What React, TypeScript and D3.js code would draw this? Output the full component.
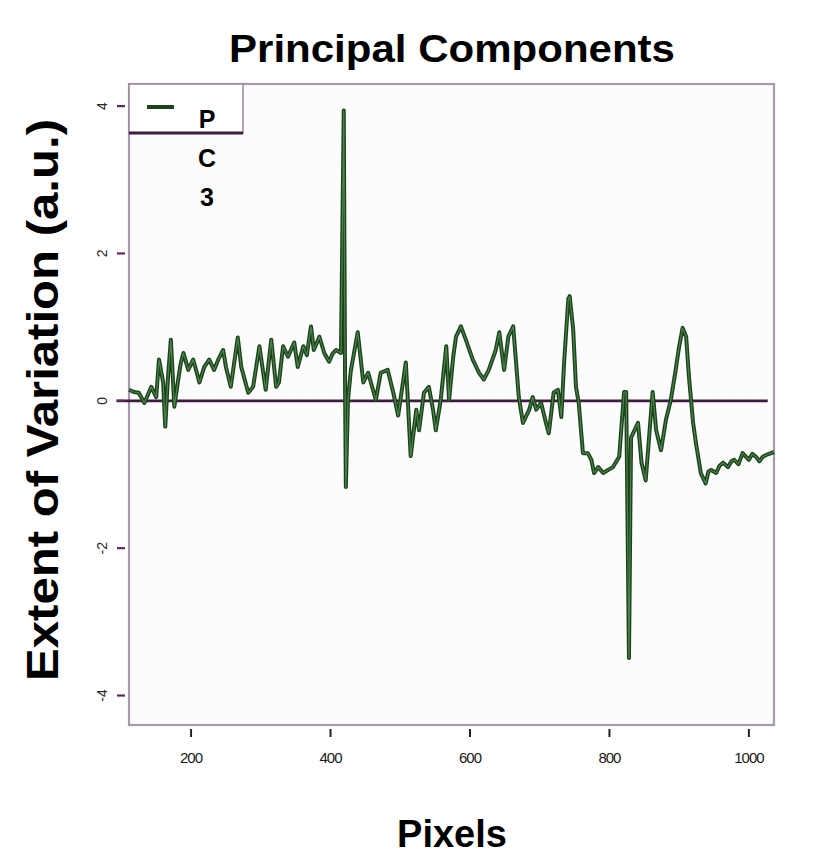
import React from "react";
import * as d3 from "d3";

// PC3 loading: pixel index and extent of variation
const pixels = [
  111, 118, 125, 133, 138, 143, 150, 154, 160, 163, 167, 171, 176, 181, 185,
  189, 196, 203, 212, 219, 226, 233, 240, 246, 250, 257, 267, 272, 282, 289,
  298, 307, 315, 322, 326, 332, 339, 348, 353, 361, 366, 372, 376, 384, 391,
  398, 403, 408, 415, 419, 421, 422, 425, 429, 439, 447, 454, 465, 472, 482,
  490, 497, 508, 515, 523, 527, 534, 541, 547, 551, 558, 566, 570, 576, 580,
  587, 594, 604, 613, 620, 627, 637, 642, 649, 655, 662, 670, 676, 685, 690,
  695, 702, 709, 713, 720, 726, 731, 735, 741, 743, 748, 752, 756, 762, 769,
  774, 778, 784, 791, 798, 805, 814, 821, 824, 828, 831, 841, 846, 852, 862,
  867, 874, 881, 888, 895, 900, 905, 910, 914, 920, 924, 931, 938, 942, 946,
  953, 958, 963, 970, 975, 979, 985, 991, 1000, 1005, 1010, 1015, 1020, 1026,
  1032, 1036,
];
const pc3 = [
  0.15, 0.12, 0.11, -0.03, 0.08, 0.19, 0.05, 0.56, 0.25, -0.35, 0.33, 0.83,
  -0.08, 0.25, 0.5, 0.65, 0.42, 0.56, 0.25, 0.46, 0.56, 0.42, 0.58, 0.69, 0.46,
  0.19, 0.86, 0.46, 0.11, 0.19, 0.74, 0.15, 0.83, 0.19, 0.25, 0.74, 0.6, 0.79,
  0.46, 0.74, 0.62, 1.01, 0.69, 0.87, 0.65, 0.53, 0.64, 0.69, 0.65, 3.94, 0.01,
  -1.17, 0.01, 0.4, 0.93, 0.25, 0.38, 0.01, 0.38, 0.42, 0.11, -0.2, 0.52,
  -0.75, -0.12, -0.4, 0.11, 0.19, -0.12, -0.4, 0.01, 0.74, 0.01, 0.6, 0.87,
  1.01, 0.83, 0.56, 0.38, 0.29, 0.42, 0.69, 0.93, 0.42, 0.87, 1.01, 0.05,
  -0.3, -0.12, 0.05, -0.12, -0.03, -0.3, -0.44, 0.11, 0.15, -0.22, 0.52, 1.38,
  1.42, 0.97, 0.19, -0.03, -0.71, -0.71, -0.8, -0.98, -0.9, -0.98, -0.94, -0.9,
  -0.76, 0.12, 0.12, -3.49, -0.5, -0.3, -0.84, -1.08, 0.12, -0.4, -0.67, -0.26,
  0.01, 0.42, 0.74, 0.99, 0.87, 0.33, -0.3, -0.57, -0.98, -1.12, -0.96, -0.94,
  -0.98, -0.88, -0.84, -0.9, -0.82, -0.8, -0.86, -0.71, -0.8, -0.72, -0.76,
  -0.82, -0.76, -0.73, -0.71, -0.69,
];
const xTicks = [200, 400, 600, 800, 1000];
const yTicks = [-4, -2, 0, 2, 4];
const zeroLineSpan = [93, 1027];
const legendLabel = ["P", "C", "3"];

const W = 836;
const H = 855;
const box = { left: 129, right: 774, top: 84, bottom: 725 };

const App: React.FC = () => {
  const x = d3.scaleLinear().domain([111, 1036]).range([box.left, box.right]);
  const y = d3.scaleLinear().domain([-4.4, 4.3]).range([box.bottom, box.top]);

  const points = pixels.map((p, i) => [p, pc3[i]] as [number, number]);
  const line = d3
    .line<[number, number]>()
    .x((d) => x(d[0]))
    .y((d) => y(d[1]));
  const path = line(points) || "";

  const font = "Liberation Sans, Arial, sans-serif";

  return (
    <svg
      width={W}
      height={H}
      style={{ position: "absolute", left: 0, top: 0, background: "#fff" }}
    >
      <rect width={W} height={H} fill="#fff" />
      <text
        x={452}
        y={62}
        textAnchor="middle"
        fontFamily={font}
        fontWeight="bold"
        fontSize={39}
        textLength={446}
        lengthAdjust="spacingAndGlyphs"
        fill="#000"
      >
        Principal Components
      </text>

      {/* plot frame */}
      <rect
        x={box.left}
        y={box.top}
        width={box.right - box.left}
        height={box.bottom - box.top}
        fill="#fdfcfd"
        stroke="#a898ad"
        strokeWidth={2.2}
      />

      {/* zero reference */}
      <line
        x1={x(zeroLineSpan[0])}
        x2={x(zeroLineSpan[1])}
        y1={y(0)}
        y2={y(0)}
        stroke="#3f1b40"
        strokeWidth={2.8}
      />

      {/* PC3 curve */}
      <path
        d={path}
        fill="none"
        stroke="#1b421b"
        strokeWidth={4}
        strokeLinejoin="round"
      />
      <path
        d={path}
        fill="none"
        stroke="#5f9f5f"
        strokeWidth={1.2}
        strokeOpacity={0.7}
        strokeLinejoin="round"
      />

      {/* x axis */}
      {xTicks.map((t) => (
        <g key={`x${t}`}>
          <line
            x1={x(t)}
            x2={x(t)}
            y1={box.bottom + 4}
            y2={box.bottom + 12}
            stroke="#222"
            strokeWidth={2}
          />
          <text
            x={x(t)}
            y={box.bottom + 38}
            textAnchor="middle"
            fontFamily={font}
            fontSize={15}
            fill="#1a1a1a"
            letterSpacing={-1}
          >
            {t}
          </text>
        </g>
      ))}

      {/* y axis */}
      {yTicks.map((t) => (
        <g key={`y${t}`}>
          <line
            x1={box.left - 12}
            x2={box.left - 4}
            y1={y(t)}
            y2={y(t)}
            stroke="#5a2a5a"
            strokeWidth={2.2}
          />
          <text
            transform={`translate(${box.left - 27},${y(t)}) rotate(-90)`}
            textAnchor="middle"
            dy="0.35em"
            fontFamily={font}
            fontSize={14}
            fill="#2a2a2a"
          >
            {t}
          </text>
        </g>
      ))}

      {/* legend */}
      <rect
        x={box.left}
        y={box.top}
        width={114}
        height={49}
        fill="#fff"
        stroke="#9a86a0"
        strokeWidth={1.5}
      />
      <line
        x1={box.left}
        x2={box.left + 114}
        y1={box.top + 49}
        y2={box.top + 49}
        stroke="#3f1b40"
        strokeWidth={3}
      />
      <line
        x1={box.left + 18}
        x2={box.left + 45}
        y1={box.top + 23}
        y2={box.top + 23}
        stroke="#1b421b"
        strokeWidth={4}
      />
      {legendLabel.map((c, i) => (
        <text
          key={c}
          x={207}
          y={128 + i * 39}
          textAnchor="middle"
          fontFamily={font}
          fontWeight="bold"
          fontSize={25}
          fill="#000"
        >
          {c}
        </text>
      ))}

      {/* axis titles */}
      <text
        x={452}
        y={847}
        textAnchor="middle"
        fontFamily={font}
        fontWeight="bold"
        fontSize={38}
        fill="#000"
      >
        Pixels
      </text>
      <text
        transform="translate(58,400) rotate(-90)"
        textAnchor="middle"
        fontFamily={font}
        fontWeight="bold"
        fontSize={44}
        textLength={562}
        lengthAdjust="spacingAndGlyphs"
        fill="#000"
      >
        Extent of Variation (a.u.)
      </text>
    </svg>
  );
};

export default App;
